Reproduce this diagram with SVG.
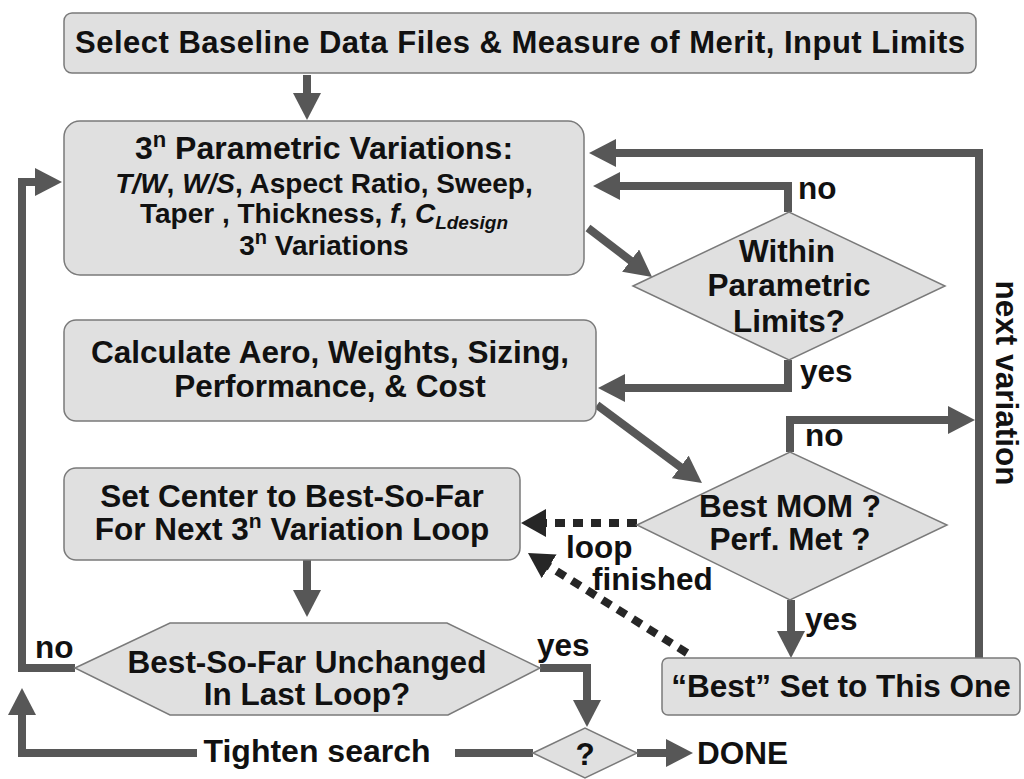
<svg xmlns="http://www.w3.org/2000/svg" width="1024" height="779" viewBox="0 0 1024 779">
<style>
.box{fill:#e0e0e0;stroke:#7a7a7a;stroke-width:1.5}
.t{font-family:"Liberation Sans",Arial,sans-serif;font-weight:bold;font-size:31.5px;fill:#111;text-anchor:middle}
.l{font-family:"Liberation Sans",Arial,sans-serif;font-weight:bold;font-size:31.5px;fill:#111}
.c{fill:none;stroke:#575757;stroke-width:8;stroke-linejoin:miter;marker-end:url(#ah)}
.cn{fill:none;stroke:#575757;stroke-width:8}
.d{fill:none;stroke:#262626;stroke-width:8;stroke-dasharray:10 8;marker-end:url(#ahd)}
.i{font-style:italic}
</style>
<defs>
<marker id="ah" viewBox="0 0 27 28" markerWidth="27" markerHeight="28" refX="1" refY="14" orient="auto" markerUnits="userSpaceOnUse">
<path d="M0,0 L27,14 L0,28 Z" fill="#575757"/>
</marker>
<marker id="ahd" viewBox="0 0 25 28" markerWidth="25" markerHeight="28" refX="1" refY="14" orient="auto" markerUnits="userSpaceOnUse">
<path d="M0,0 L25,14 L0,28 Z" fill="#262626"/>
</marker>
</defs>
<rect width="1024" height="779" fill="#ffffff"/>

<g id="connectors">
<path class="c" d="M307 75 L307 94"/>
<path class="c" d="M75 668 L22 668 L22 182 L36 182"/>
<path class="c" d="M979 658 L979 153 L615 153"/>
<path class="c" d="M788 212 L788 186 L619 186"/>
<path class="c" d="M788 360 L788 388 L624 388"/>
<path class="c" d="M588 228 L631.4 261.2"/>
<path class="c" d="M597 405 L681.1 467.5"/>
<path class="c" d="M790 452 L790 420 L949 420"/>
<path class="c" d="M791 600 L791 632"/>
<path class="c" d="M307 560 L307 591"/>
<path class="c" d="M540 668 L587 668 L587 701"/>
<path class="c" d="M197 753 L22 753 L22 714"/>
<path class="cn" d="M455 753 L533 753"/>
<path class="c" d="M637 753 L667 753"/>
<path class="d" d="M637 523 L545 523"/>
<path class="d" d="M687 653 L548.3 565.8"/>
</g>

<g id="n_top">
<rect class="box" x="64" y="13" width="912" height="60" rx="8"/>
<text class="t" x="520" y="53" style="font-size:31px" textLength="890" lengthAdjust="spacing">Select Baseline Data Files &amp; Measure of Merit, Input Limits</text>
</g>

<g id="n_param">
<rect class="box" x="64" y="121" width="520" height="154" rx="16"/>
<text class="t" x="324" y="159" style="font-size:32px">3<tspan dy="-12" style="font-size:22px">n</tspan><tspan dy="12"> Parametric Variations:</tspan></text>
<text class="t" x="324" y="193" style="font-size:28px"><tspan class="i">T/W</tspan>, <tspan class="i">W/S</tspan>, Aspect Ratio, Sweep,</text>
<text class="t" x="324" y="223" style="font-size:28px">Taper , Thickness, <tspan class="i">f</tspan>, <tspan class="i">C</tspan><tspan class="i" dy="6" style="font-size:19px">Ldesign</tspan></text>
<text class="t" x="324" y="255" style="font-size:28px">3<tspan dy="-11" style="font-size:20px">n</tspan><tspan dy="11"> Variations</tspan></text>
</g>

<g id="n_within">
<polygon class="box" points="633,286 789,212 945,286 789,360"/>
<text class="t" x="787" y="262">Within</text>
<text class="t" x="789" y="296">Parametric</text>
<text class="t" x="789" y="332">Limits?</text>
</g>

<g id="n_calc">
<rect class="box" x="64" y="320" width="532" height="101" rx="12"/>
<text class="t" x="330" y="363">Calculate Aero, Weights, Sizing,</text>
<text class="t" x="330" y="397">Performance, &amp; Cost</text>
</g>

<g id="n_bestmom">
<polygon class="box" points="637,525 790,452 947,525 790,600"/>
<text class="t" x="790" y="517">Best MOM ?</text>
<text class="t" x="790" y="550">Perf. Met ?</text>
</g>

<g id="n_center">
<rect class="box" x="64" y="468" width="456" height="92" rx="12"/>
<text class="t" x="292" y="507">Set Center to Best-So-Far</text>
<text class="t" x="292" y="540">For Next 3<tspan dy="-12" style="font-size:21px">n</tspan><tspan dy="12"> Variation Loop</tspan></text>
</g>

<g id="n_unchanged">
<polygon class="box" points="75,668 170,623 447,623 540,668 448,715 170,715"/>
<text class="t" x="307" y="673">Best-So-Far Unchanged</text>
<text class="t" x="307" y="705">In Last Loop?</text>
</g>

<g id="n_bestset">
<rect class="box" x="662" y="658" width="358" height="57" rx="6"/>
<text class="t" x="841" y="697">“Best” Set to This One</text>
</g>

<g id="n_q">
<polygon class="box" points="533,753 585,728 637,753 585,778"/>
<text class="t" x="585" y="765">?</text>
</g>

<g id="n_done">
<text class="l" x="697" y="764">DONE</text>
</g>

<g id="labels">
<text class="l" x="798" y="199">no</text>
<text class="l" x="800" y="382">yes</text>
<text class="l" x="805" y="446">no</text>
<text class="l" x="805" y="630">yes</text>
<text class="l" x="566" y="558">loop</text>
<text class="l" x="592" y="590">finished</text>
<text class="l" x="35" y="658">no</text>
<text class="l" x="537" y="656">yes</text>
<text class="t" x="317" y="762" style="font-size:32px">Tighten search</text>
<text class="t" transform="translate(996,383) rotate(90)">next variation</text>
</g>
</svg>
